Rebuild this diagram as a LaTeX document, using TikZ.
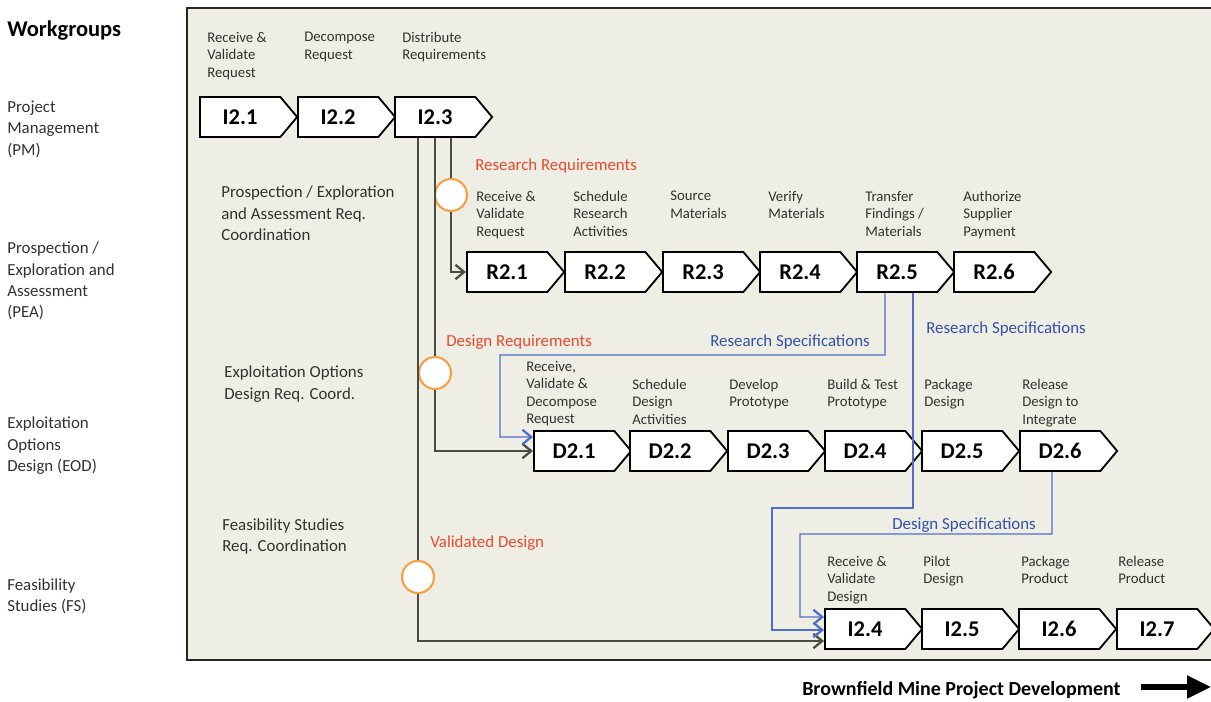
\documentclass[tikz,border=0pt]{standalone}
\usepackage{fontspec}
\setmainfont{Carlito}
\usetikzlibrary{shapes.symbols,arrows.meta,calc}

\definecolor{lanebg}{RGB}{239,238,228}
\definecolor{reqred}{RGB}{232,74,46}
\definecolor{ringorange}{RGB}{245,160,70}
\definecolor{specblue}{RGB}{50,82,168}
\definecolor{specline}{RGB}{80,110,200}
\definecolor{flowgray}{RGB}{75,75,70}
\definecolor{labelgray}{RGB}{50,50,50}

\begin{document}
\begin{tikzpicture}[
        x=0.025cm, y=-0.025cm,
        task/.style={
            signal,
            signal to=east,
            signal pointer angle=100,
            draw,
            line width=1.3pt,
            fill=white,
            minimum width=2.43cm,
            minimum height=1cm,
            inner sep=0pt,
            anchor=west,
            font=\fontsize{16}{19}\selectfont\bfseries
        },
        caption/.style={
            anchor=north west,
            align=left,
            inner sep=0pt,
            text=labelgray,
            font=\fontsize{10.5}{12.4}\selectfont
        },
        group/.style={
            anchor=north west,
            align=left,
            inner sep=0pt,
            text=labelgray,
            font=\fontsize{12}{15}\selectfont
        },
        req/.style={anchor=base west, inner sep=0pt, text=reqred, font=\fontsize{12}{15}\selectfont},
        spec/.style={inner sep=0pt, text=specblue, font=\fontsize{12}{15}\selectfont},
        gate/.style={circle, draw=ringorange, line width=1.5pt, fill=white, minimum size=0.8cm, inner sep=0pt},
        flow/.style={draw=flowgray, line width=0.9pt},
        specflow/.style={draw=specline, line width=0.9pt},
        arrow/.style={-{Straight Barb[length=0.22cm,width=0.36cm,line width=1.6pt]}}
    ]

        \useasboundingbox (0,0) rectangle (1211,702);

        % lane frame
        \fill[lanebg] (187,8) rectangle (1211,660);
        \draw[line width=1.5pt, black!85] (1211,8) -- (187,8) -- (187,660) -- (1211,660);

        % workgroups
        \node[anchor=base west, inner sep=0pt, font=\fontsize{16}{19}\selectfont\bfseries] (wg) at (7,37) {Workgroups};
        \node[group] (pm) at (7,101) {Project\\Management\\(PM)};
        \node[group] (pea) at (7,242) {Prospection /\\Exploration and\\Assessment\\(PEA)};
        \node[group] (eod) at (7,417) {Exploitation\\Options\\Design (EOD)};
        \node[group] (fs) at (7,578) {Feasibility\\Studies (FS)};

        \node[group] (peac) at (221,186) {Prospection / Exploration\\and Assessment Req.\\Coordination};
        \node[group] (eodc) at (224,366) {Exploitation Options\\Design Req. Coord.};
        \node[group] (fsc) at (222,518) {Feasibility Studies\\Req. Coordination};

        % gates
        \node[gate] (g1) at (451,195) {};
        \node[gate] (g2) at (435,373) {};
        \node[gate] (g3) at (418,577) {};

        % tasks
        \node[task] (i21) at (199,117) {I2.1};
        \node[task] (i22) at (297,117) {I2.2};
        \node[task] (i23) at (394,117) {I2.3};

        \node[task] (r21) at (466,272) {R2.1};
        \node[task] (r22) at (564,272) {R2.2};
        \node[task] (r23) at (662,272) {R2.3};
        \node[task] (r24) at (759,272) {R2.4};
        \node[task] (r25) at (856,272) {R2.5};
        \node[task] (r26) at (953,272) {R2.6};

        \node[task] (d21) at (533,451) {D2.1};
        \node[task] (d22) at (629,451) {D2.2};
        \node[task] (d23) at (727,451) {D2.3};
        \node[task] (d24) at (824,451) {D2.4};
        \node[task] (d25) at (921,451) {D2.5};
        \node[task] (d26) at (1019,451) {D2.6};

        \node[task] (i24) at (824,629) {I2.4};
        \node[task] (i25) at (921,629) {I2.5};
        \node[task] (i26) at (1018,629) {I2.6};
        \node[task] (i27) at (1116,629) {I2.7};

        % requirement flows
        \draw[flow] (g1 |- i23.south) -- (g1.north);
        \draw[flow, arrow] (g1.south) |- (r21.west);
        \draw[flow] (g2 |- i23.south) -- (g2.north);
        \draw[flow, arrow] (g2.south) |- (d21.west);
        \draw[flow] (g3 |- i23.south) -- (g3.north);
        \draw[flow, arrow] (g3.south) |- ([yshift=-0.3cm]i24.west);

        % specification flows
        \draw[specflow, arrow] ($(r25.west |- r25.south)+(29,0)$) -- ++(0,62) -| ($(d21.west)+(-33,-14)$) -- ([yshift=0.35cm]d21.west);
        \draw[specflow, arrow] ($(r25.west |- r25.south)+(57,0)$) -- ++(0,215) -| ($(i24.west)+(-52,1)$) -- ([yshift=-0.025cm]i24.west);
        \draw[specflow, arrow] ($(d26.west |- d26.south)+(33,0)$) -- ++(0,62) -| ($(i24.west)+(-24,-12)$) -- ([yshift=0.3cm]i24.west);

        % flow labels
        \node[req] (rreq) at (475,171) {Research Requirements};
        \node[req] (dreq) at (446,346) {Design Requirements};
        \node[req] (vdes) at (430,547) {Validated Design};
        \node[spec, anchor=base east] (rspec1) at (870,346) {Research Specifications};
        \node[spec, anchor=base west] (rspec2) at (926,333) {Research Specifications};
        \node[spec, anchor=base west] (dspec) at (892,529) {Design Specifications};

        % task captions
        \node[caption] (i21txt) at (207,32) {Receive \&\\Validate\\Request};
        \node[caption] (i22txt) at (304,32) {Decompose\\Request};
        \node[caption] (i23txt) at (402,32) {Distribute\\Requirements};

        \node[caption] (r21txt) at (476,191) {Receive \&\\Validate\\Request};
        \node[caption] (r22txt) at (573,191) {Schedule\\Research\\Activities};
        \node[caption] (r23txt) at (670,191) {Source\\Materials};
        \node[caption] (r24txt) at (768,191) {Verify\\Materials};
        \node[caption] (r25txt) at (865,191) {Transfer\\Findings /\\Materials};
        \node[caption] (r26txt) at (963,191) {Authorize\\Supplier\\Payment};

        \node[caption] (d21txt) at (526,361) {Receive,\\Validate \&\\Decompose\\Request};
        \node[caption] (d22txt) at (632,379) {Schedule\\Design\\Activities};
        \node[caption] (d23txt) at (729,379) {Develop\\Prototype};
        \node[caption] (d24txt) at (827,379) {Build \& Test\\Prototype};
        \node[caption] (d25txt) at (924,379) {Package\\Design};
        \node[caption] (d26txt) at (1022,379) {Release\\Design to\\Integrate};

        \node[caption] (i24txt) at (827,556) {Receive \&\\Validate\\Design};
        \node[caption] (i25txt) at (923,556) {Pilot\\Design};
        \node[caption] (i26txt) at (1021,556) {Package\\Product};
        \node[caption] (i27txt) at (1118,556) {Release\\Product};

        % project direction
        \node[anchor=base west, inner sep=0pt, font=\fontsize{14.2}{17}\selectfont\bfseries] (dev) at (802,695) {Brownfield Mine Project Development};
        \coordinate (devend) at (1211,687);
        \draw[line width=3.8pt, -{Triangle[length=0.6cm,width=0.55cm]}] ($(dev.east |- devend)+(20,0)$) -- (devend);

    \end{tikzpicture}
\end{document}
